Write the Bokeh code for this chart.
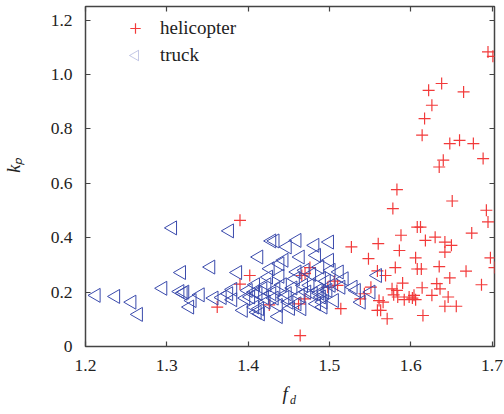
from bokeh.plotting import figure
from bokeh.models import (Range1d, FixedTicker, LinearAxis, Legend, LegendItem, PolyAnnotation,
                          CustomLabelingPolicy)
from bokeh.embed import file_html
from bokeh.resources import INLINE
import numpy as np

# ---------------- data ----------------
heli_fd = [1.390, 1.402, 1.390, 1.362, 1.426, 1.464, 1.462, 1.466, 1.470, 1.476,
           1.470, 1.506, 1.498, 1.510, 1.514, 1.527, 1.548, 1.551, 1.543, 1.538,
           1.560, 1.559, 1.569, 1.561, 1.566, 1.559, 1.563, 1.571, 1.583, 1.578,
           1.588, 1.586, 1.581, 1.577, 1.583, 1.590, 1.584, 1.579, 1.592, 1.598,
           1.602, 1.606, 1.604, 1.606, 1.608, 1.612, 1.608, 1.613, 1.614, 1.615,
           1.614, 1.617, 1.622, 1.626, 1.638, 1.635, 1.640, 1.651, 1.648, 1.660,
           1.665, 1.677, 1.689, 1.693, 1.695, 1.698, 1.703, 1.687, 1.675, 1.668,
           1.630, 1.618, 1.642, 1.650, 1.642, 1.635, 1.648, 1.632, 1.636, 1.626,
           1.646, 1.642, 1.656, 1.695, 1.701]
heli_kp = [0.464, 0.261, 0.229, 0.145, 0.153, 0.040, 0.157, 0.261, 0.268, 0.290,
           0.175, 0.240, 0.218, 0.225, 0.139, 0.366, 0.323, 0.218, 0.194, 0.175,
           0.378, 0.278, 0.261, 0.169, 0.163, 0.133, 0.133, 0.102, 0.577, 0.507,
           0.409, 0.353, 0.290, 0.212, 0.206, 0.233, 0.182, 0.190, 0.172, 0.182,
           0.178, 0.172, 0.188, 0.326, 0.439, 0.439, 0.285, 0.285, 0.216, 0.114,
           0.777, 0.838, 0.942, 0.887, 0.967, 0.660, 0.685, 0.535, 0.746, 0.758,
           0.936, 0.746, 0.691, 0.501, 0.458, 0.326, 0.290, 0.227, 0.417, 0.277,
           0.402, 0.390, 0.384, 0.372, 0.347, 0.294, 0.252, 0.231, 0.212, 0.188,
           0.182, 0.148, 0.148, 1.083, 1.067]

truck_fd = [1.213, 1.237, 1.257, 1.265, 1.295, 1.307, 1.318, 1.316, 1.320, 1.322,
            1.328, 1.331, 1.341, 1.354, 1.358, 1.377, 1.387, 1.368, 1.376, 1.381,
            1.381, 1.394, 1.397, 1.400, 1.403, 1.408, 1.413, 1.409, 1.412, 1.414,
            1.411, 1.415, 1.418, 1.420, 1.422, 1.429, 1.433, 1.427, 1.425, 1.429,
            1.423, 1.437, 1.437, 1.439, 1.444, 1.439, 1.442, 1.434, 1.432, 1.448,
            1.460, 1.464, 1.460, 1.458, 1.448, 1.450, 1.452, 1.460, 1.464, 1.466,
            1.470, 1.472, 1.468, 1.482, 1.484, 1.488, 1.500, 1.500, 1.502, 1.476,
            1.480, 1.486, 1.490, 1.492, 1.492, 1.484, 1.488, 1.494, 1.498, 1.502,
            1.496, 1.490, 1.512, 1.518, 1.514, 1.529, 1.533, 1.539, 1.551, 1.559,
            1.506, 1.478, 1.455, 1.445, 1.408]
truck_kp = [0.188, 0.184, 0.163, 0.118, 0.214, 0.436, 0.272, 0.202, 0.196, 0.200,
            0.145, 0.169, 0.190, 0.292, 0.178, 0.425, 0.272, 0.180, 0.194, 0.210,
            0.172, 0.133, 0.178, 0.206, 0.182, 0.145, 0.329, 0.227, 0.196, 0.139,
            0.126, 0.120, 0.212, 0.180, 0.163, 0.388, 0.388, 0.286, 0.255, 0.194,
            0.227, 0.110, 0.151, 0.304, 0.317, 0.258, 0.227, 0.210, 0.178, 0.366,
            0.390, 0.329, 0.274, 0.249, 0.194, 0.163, 0.140, 0.157, 0.188, 0.139,
            0.280, 0.200, 0.225, 0.372, 0.335, 0.292, 0.384, 0.317, 0.280, 0.225,
            0.194, 0.206, 0.182, 0.163, 0.145, 0.157, 0.196, 0.200, 0.206, 0.225,
            0.240, 0.250, 0.274, 0.249, 0.218, 0.218, 0.206, 0.163, 0.200, 0.261,
            0.169, 0.265, 0.215, 0.180, 0.200]

x_ticks = [1.2, 1.3, 1.4, 1.5, 1.6, 1.7]
y_ticks = [0, 0.2, 0.4, 0.6, 0.8, 1.0, 1.2]
y_tick_labels = ["0", "0.2", "0.4", "0.6", "0.8", "1.0", "1.2"]
series_names = ["helicopter", "truck"]

RED = "#f23a3a"
BLUE = "#3a4aac"
FONT = "Liberation Serif"
AXC = "#444444"
TXT = "#222222"
NB = "\u00a0"

FRAME_H = 340
p = figure(width=504, height=414, output_backend="svg", toolbar_location=None,
           x_range=Range1d(1.2, 1.703), y_range=Range1d(0, 1.25),
           min_border_left=82, min_border_right=10, min_border_top=6, min_border_bottom=68,
           background_fill_color="white", border_fill_color="white")
p.grid.visible = False
p.outline_line_color = AXC
p.outline_line_width = 1.5

r_h = p.scatter(heli_fd, heli_kp, marker="cross", size=12, line_color=RED, line_width=1.2)
r_t = p.scatter(truck_fd, truck_kp, marker="triangle", angle=np.pi / 2, size=14,
                fill_color=None, line_color=BLUE, line_width=1.0)
# legend proxy for the truck entry (its key is drawn as a left-pointing triangle below)
r_t_key = p.scatter([], [], marker="triangle", size=1, fill_alpha=0, line_alpha=0)


def style_axis(ax, ticks, labels=True):
    ax.ticker = FixedTicker(ticks=ticks)
    ax.axis_line_color = None
    ax.major_tick_line_color = AXC
    ax.major_tick_line_width = 1.2
    ax.major_tick_in = 5
    ax.major_tick_out = 0
    ax.minor_tick_line_color = None
    ax.major_label_text_font = FONT
    ax.major_label_text_color = TXT
    ax.axis_label_text_font = FONT
    ax.axis_label_text_font_style = "italic"
    ax.axis_label_text_color = TXT
    if labels:
        ax.major_label_text_font_size = "17.5px"
    else:
        ax.major_label_text_font_size = "0px"
        ax.major_label_standoff = 0
        ax.major_label_policy = CustomLabelingPolicy(code="return []")


xa = p.xaxis[0]
style_axis(xa, x_ticks)
xa.major_label_standoff = 13
xa.axis_label = "f" + NB * 2
xa.axis_label_text_font_size = "19px"
xa.axis_label_standoff = 9

ya = p.yaxis[0]
style_axis(ya, y_ticks)
ya.major_label_standoff = 13
ya.major_label_overrides = {t: s for t, s in zip(y_ticks, y_tick_labels)}
ya.axis_label = NB * 5 + "k\u209a"
ya.axis_label_text_font_size = "18px"
ya.axis_label_standoff = 24

# subscript of f_d
xsub = LinearAxis()
style_axis(xsub, [])
xsub.major_tick_line_color = None
xsub.axis_label = NB * 2 + "d"
xsub.axis_label_text_font_size = "12px"
xsub.axis_label_standoff = -14
p.add_layout(xsub, "below")

# mirrored ticks on top and right
top_ax = LinearAxis()
style_axis(top_ax, x_ticks, labels=False)
p.add_layout(top_ax, "above")
right_ax = LinearAxis()
style_axis(right_ax, y_ticks, labels=False)
p.add_layout(right_ax, "right")

# legend
LEG_X, LEG_TOP, ROW_H, ROW_GAP, STANDOFF = 37, 9, 26, 1, 12
leg_h = 2 * ROW_H + ROW_GAP
legend = Legend(items=[LegendItem(label=series_names[0], renderers=[r_h]),
                       LegendItem(label=series_names[1], renderers=[r_t_key])],
                location=(LEG_X, FRAME_H - LEG_TOP - leg_h), padding=0, margin=0,
                spacing=ROW_GAP, glyph_width=ROW_H, glyph_height=ROW_H,
                label_height=ROW_H, label_standoff=STANDOFF,
                label_text_font=FONT, label_text_font_size="19px", label_text_color=TXT,
                border_line_color=None, background_fill_alpha=0)
p.add_layout(legend)

# left-pointing triangle key for the truck entry, centred in its legend slot
kcx = LEG_X + ROW_H / 2
kcy = FRAME_H - (LEG_TOP + ROW_H + ROW_GAP + ROW_H / 2)
kw, kh = 9.0, 10.4
p.add_layout(PolyAnnotation(xs=[kcx - 2 * kw / 3, kcx + kw / 3, kcx + kw / 3],
                            ys=[kcy, kcy + kh / 2, kcy - kh / 2],
                            xs_units="screen", ys_units="screen",
                            fill_color=None, fill_alpha=0, line_color=BLUE, line_width=1.0))

open("out.html", "w").write(file_html(p, INLINE))
